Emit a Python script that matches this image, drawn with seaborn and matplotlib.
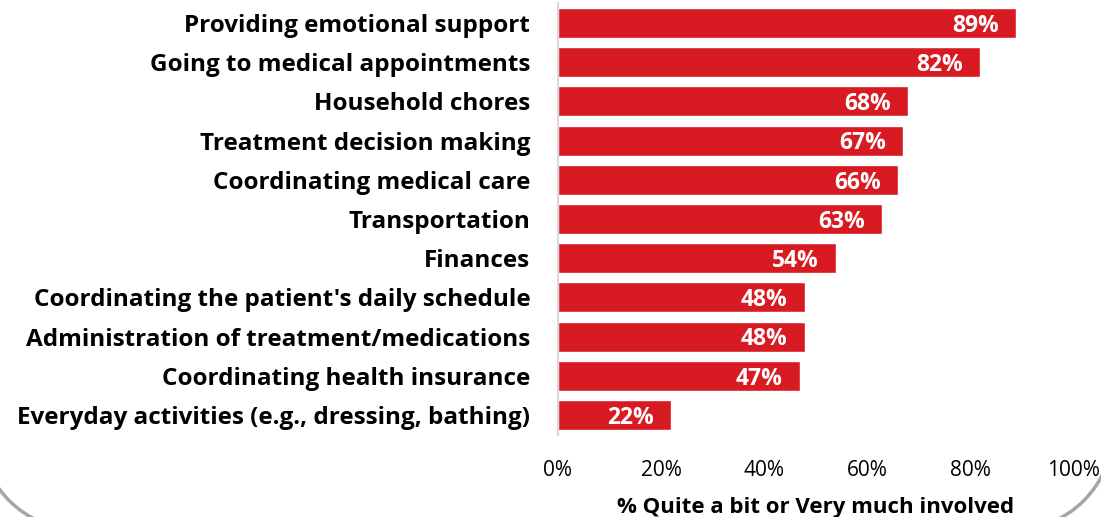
import matplotlib
matplotlib.use("Agg")
import matplotlib.pyplot as plt
import seaborn as sns
import pandas as pd
from matplotlib.patches import Arc
from matplotlib.ticker import PercentFormatter

categories = [
    "Providing emotional support",
    "Going to medical appointments",
    "Household chores",
    "Treatment decision making",
    "Coordinating medical care",
    "Transportation",
    "Finances",
    "Coordinating the patient's daily schedule",
    "Administration of treatment/medications",
    "Coordinating health insurance",
    "Everyday activities (e.g., dressing, bathing)",
]
values = [89, 82, 68, 67, 66, 63, 54, 48, 48, 47, 22]
x_ticks = [0, 20, 40, 60, 80, 100]
x_label = "% Quite a bit or Very much involved"

sns.set_theme(style="white")
plt.rcParams["font.family"] = ["Open Sans", "DejaVu Sans"]

df = pd.DataFrame({"cat": categories, "val": values})

fig = plt.figure(figsize=(11.01, 5.17), dpi=100)

# decorative rounded frame, only the bottom corners are visible
bg = fig.add_axes([0, 0, 1, 1], zorder=-1)
bg.set_xlim(0, 1101)
bg.set_ylim(517, 0)
bg.axis("off")
bg.add_patch(Arc((80, 430), 200, 200, theta1=90, theta2=180,
                 color="#a6a6a6", lw=2.5))
bg.add_patch(Arc((1013, 430), 200, 200, theta1=0, theta2=90,
                 color="#a6a6a6", lw=2.5))

ax = fig.add_axes([0.5068, 0.1594, 0.9746 - 0.5068, 0.9934 - 0.1594])
ax.patch.set_alpha(0)

sns.barplot(data=df, y="cat", x="val", orient="h", color="#D81B22",
            saturation=1, width=0.77, ax=ax)

for p, v in zip(ax.patches, values):
    ax.annotate(f"{v}%", xy=(p.get_width(), p.get_y() + p.get_height() / 2),
                xytext=(-12.5, -2), textcoords="offset points",
                ha="right", va="center", color="white",
                fontsize=16.5, fontweight="bold")

ax.set_xlim(0, 100)
ax.set_xticks(x_ticks)
ax.xaxis.set_major_formatter(PercentFormatter(decimals=0))
ax.set_ylabel("")
ax.set_xlabel(x_label, fontsize=16, fontweight="bold", labelpad=12,
              color="black")
ax.tick_params(axis="x", length=0, labelsize=15, pad=18, colors="black")
ax.tick_params(axis="y", length=0, labelsize=17.5, pad=20, colors="black")
for lab in ax.get_yticklabels():
    lab.set_fontweight("bold")
for s in ["top", "right", "bottom"]:
    ax.spines[s].set_visible(False)
ax.spines["left"].set_color("#d9d9d9")
ax.spines["left"].set_linewidth(1.5)

fig.savefig("out.png", dpi=100)
